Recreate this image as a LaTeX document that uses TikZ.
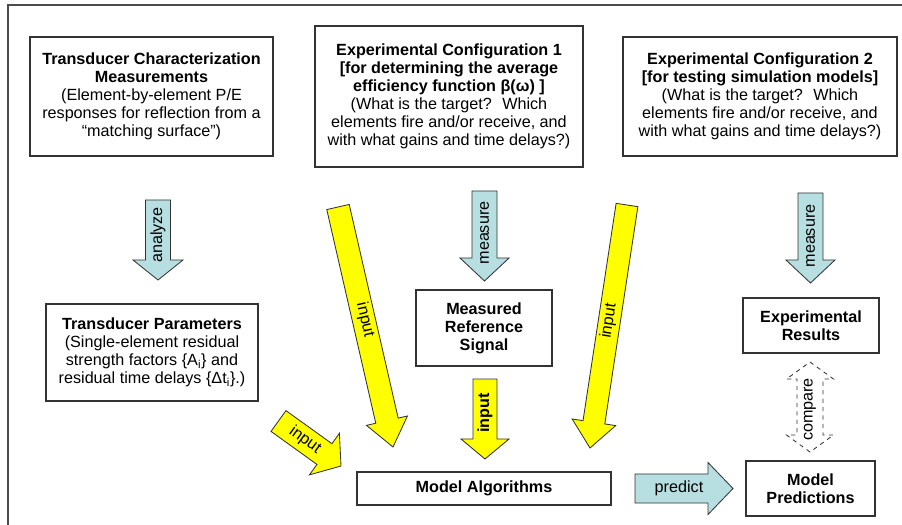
\documentclass[tikz,border=0pt]{standalone}
\usepackage{fontspec}
\setmainfont{Liberation Sans}
\usetikzlibrary{calc, positioning}
\definecolor{boxline}{HTML}{333333}
\definecolor{arrowblue}{HTML}{B7DEE0}
\definecolor{arrowyellow}{HTML}{FFFF00}

% block arrow: style, tail, tip, half shaft, half head, head length
\newcommand{\blockarrow}[6]{%
  \coordinate (hb) at ($(#3)!#6!(#2)$);
  \draw[#1] ($(#2)!#4!90:(#3)$) -- ($(hb)!#4!90:(#3)$) -- ($(hb)!#5!90:(#3)$) -- (#3)
    -- ($(hb)!#5!-90:(#3)$) -- ($(hb)!#4!-90:(#3)$) -- ($(#2)!#4!-90:(#3)$) -- cycle;
}
% double block arrow: style, end a, end b, half shaft, half head, head length
\newcommand{\dblarrow}[6]{%
  \coordinate (ha) at ($(#2)!#6!(#3)$);
  \coordinate (hz) at ($(#3)!#6!(#2)$);
  \draw[#1] (#2) -- ($(ha)!#5!90:(#3)$) -- ($(ha)!#4!90:(#3)$) -- ($(hz)!#4!90:(#3)$)
    -- ($(hz)!#5!90:(#3)$) -- (#3) -- ($(hz)!#5!-90:(#3)$) -- ($(hz)!#4!-90:(#3)$)
    -- ($(ha)!#4!-90:(#3)$) -- ($(ha)!#5!-90:(#3)$) -- cycle;
}

\begin{document}
\begin{tikzpicture}[
    x=0.025cm, y=-0.025cm,
    every node/.style={font=\fontsize{11.5}{12.8}\selectfont},
    box/.style={draw=boxline, line width=0.8pt, fill=white, align=center, inner sep=0pt},
    blu/.style={draw=boxline, fill=arrowblue, line width=0.6pt},
    yel/.style={draw=boxline, fill=arrowyellow, line width=0.6pt},
    cmp/.style={draw=boxline, dashed, fill=white, line width=0.6pt},
    lbl/.style={inner sep=0pt}
]
    \clip (0,0) rectangle (902,525);
    \draw[draw=black!70, line width=0.8pt] (8,5) rectangle (930,560);

    % boxes
    \node[box, minimum width=243*0.025cm, minimum height=119*0.025cm] (tcm) at (151.5,96.5)
        {\textbf{Transducer Characterization}\\ \textbf{Measurements}\\ (Element-by-element P/E\\
         responses for reflection from a\\ “matching surface”)};
    \node[box, minimum width=268*0.025cm, minimum height=141*0.025cm] (ec1) at (449,96.5)
        {\textbf{Experimental Configuration 1}\\ \textbf{[for determining the average}\\
         \textbf{efficiency function β(ω) ]}\\ (What is the target?~ Which\\
         elements fire and/or receive, and\\ with what gains and time delays?)};
    \node[box, minimum width=274*0.025cm, minimum height=119*0.025cm] (ec2) at (760,96.5)
        {\textbf{Experimental Configuration 2}\\ \textbf{[for testing simulation models]}\\
         (What is the target?~ Which\\ elements fire and/or receive, and\\
         with what gains and time delays?)};
    \node[box, minimum width=212*0.025cm, minimum height=97*0.025cm] (tp) at (152,352.5)
        {\textbf{Transducer Parameters}\\ (Single-element residual\\
         strength factors \{A\textsubscript{i}\} and\\ residual time delays \{Δt\textsubscript{i}\}.)};
    \node[box, minimum width=136*0.025cm, minimum height=76*0.025cm] (mrs) at (484,328)
        {\textbf{Measured}\\ \textbf{Reference}\\ \textbf{Signal}};
    \node[box, minimum width=136*0.025cm, minimum height=55*0.025cm] (er) at (811,325.5)
        {\textbf{Experimental}\\ \textbf{Results}};
    \node[box, minimum width=129*0.025cm, minimum height=55*0.025cm] (mp) at (810.5,488.5)
        {\textbf{Model}\\ \textbf{Predictions}};
    \node[box, minimum width=254*0.025cm, minimum height=33*0.025cm] (ma) at (484,488.5)
        {\textbf{Model Algorithms}};

    % arrow ends
    \coordinate (anaA) at (158,200);    \coordinate (anaB) at (158,280);
    \coordinate (me1A) at (484.5,191);  \coordinate (me1B) at (484.5,281);
    \coordinate (me2A) at (810.5,193);  \coordinate (me2B) at (810.5,283);
    \coordinate (in1A) at (338,207);    \coordinate (in1B) at (393,447);
    \coordinate (in2A) at (485,379);    \coordinate (in2B) at (485,459);
    \coordinate (in3A) at (627,205);    \coordinate (in3B) at (590,448);
    \coordinate (in4A) at (278.5,421);  \coordinate (in4B) at (341,466);
    \coordinate (preA) at (635,488.5);  \coordinate (preB) at (733,488.5);
    \coordinate (cmpA) at (810,362);    \coordinate (cmpB) at (810,452);

    \blockarrow{blu}{anaA}{anaB}{0.3125cm}{0.625cm}{0.5cm}
    \blockarrow{blu}{me1A}{me1B}{0.3125cm}{0.6125cm}{0.575cm}
    \blockarrow{blu}{me2A}{me2B}{0.3125cm}{0.6125cm}{0.575cm}
    \blockarrow{yel}{in1A}{in1B}{0.2875cm}{0.525cm}{0.675cm}
    \blockarrow{yel}{in2A}{in2B}{0.3cm}{0.6cm}{0.5cm}
    \blockarrow{yel}{in3A}{in3B}{0.275cm}{0.55cm}{0.65cm}
    \blockarrow{yel}{in4A}{in4B}{0.32cm}{0.64cm}{0.51cm}
    \blockarrow{blu}{preA}{preB}{0.3625cm}{0.65cm}{0.625cm}
    \dblarrow{cmp}{cmpA}{cmpB}{0.325cm}{0.5875cm}{0.425cm}

    % arrow labels
    \node[lbl, rotate=90] (anaL) at (158,235) {analyze};
    \node[lbl, rotate=90] (me1L) at (484.5,233) {measure};
    \node[lbl, rotate=90] (me2L) at (810.5,236) {measure};
    \node[lbl, rotate=-77] (in1L) at (365,320) {input};
    \node[lbl, rotate=90] (in2L) at (485,413) {\textbf{input}};
    \node[lbl, rotate=81] (in3L) at (609,321) {input};
    \node[lbl, rotate=-36] (in4L) at (305,440) {input};
    \node[lbl] (preL) at (679,488) {predict};
    \node[lbl, rotate=90] (cmpL) at (810,409.5) {compare};
\end{tikzpicture}
\end{document}
